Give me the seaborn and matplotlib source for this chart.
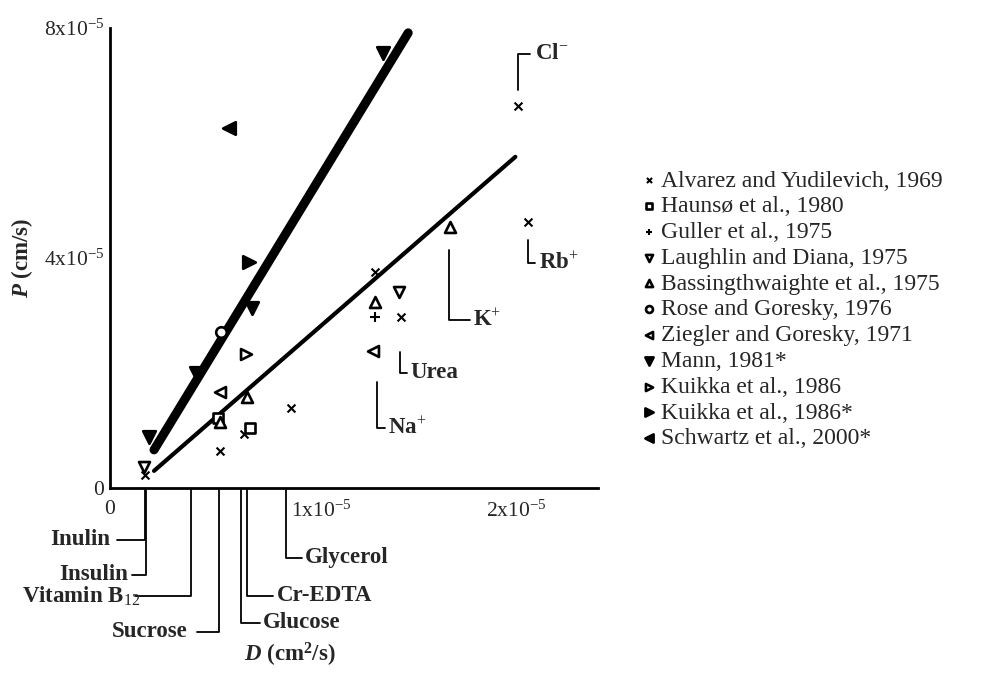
import numpy as np
import pandas as pd
import matplotlib
matplotlib.use("Agg")
import matplotlib.pyplot as plt
import matplotlib.transforms as mtransforms
import seaborn as sns

# ---------------- data (units of 1e-5) ----------------
alvarez_D = [0.18, 0.564, 0.687, 0.928, 1.36, 1.49, 2.09, 2.14]
alvarez_P = [0.23, 0.64, 0.94, 1.39, 3.76, 2.97, 6.64, 4.63]
haunso_D = [0.554, 0.718]
haunso_P = [1.22, 1.04]
guller_D = [1.36]
guller_P = [2.97]
laughlin_D = [0.175, 1.48]
laughlin_P = [0.37, 3.41]
bass_D = [0.564, 0.70, 1.36, 1.74]
bass_P = [1.15, 1.58, 3.24, 4.54]
rose_D = [0.57]
rose_P = [2.71]
ziegler_D = [0.564, 1.35]
ziegler_P = [1.67, 2.38]
mann_D = [0.20, 0.441, 0.728, 1.40]
mann_P = [0.887, 2.00, 3.13, 7.57]
kuikka_D = [0.697]
kuikka_P = [2.33]
kuikka2_D = [0.713]
kuikka2_P = [3.93]
schwartz_D = [0.61]
schwartz_P = [6.26]

thick_D = [0.226, 1.528]
thick_P = [0.661, 7.913]
thin_D = [0.226, 2.077]
thin_P = [0.296, 5.757]

study_names = ["Alvarez and Yudilevich, 1969", "Haunsø et al., 1980", "Guller et al., 1975",
               "Laughlin and Diana, 1975", "Bassingthwaighte et al., 1975", "Rose and Goresky, 1976",
               "Ziegler and Goresky, 1971", "Mann, 1981*", "Kuikka et al., 1986",
               "Kuikka et al., 1986*", "Schwartz et al., 2000*"]

y_ticks = [0, 4, 8]
y_ticklabels = ["0", "4x10$^{-5}$", "8x10$^{-5}$"]
x_ticks = [0, 1, 2]
x_ticklabels = ["0", "1x10$^{-5}$", "2x10$^{-5}$"]

bottom_labels = ["Inulin", "Insulin", "Vitamin B$_{12}$", "Sucrose", "Glucose", "Cr-EDTA", "Glycerol"]
bottom_D = [0.18, 0.185, 0.415, 0.56, 0.67, 0.70, 0.90]

ion_labels = ["Cl$^{-}$", "Rb$^{+}$", "K$^{+}$", "Urea", "Na$^{+}$"]
ion_D = [2.09, 2.14, 1.738, 1.487, 1.37]

E = 1e-5

# ---------------- style ----------------
sns.set_style("white")
plt.rcParams["font.family"] = ["Liberation Serif", "DejaVu Serif"]
plt.rcParams["mathtext.fontset"] = "custom"
plt.rcParams["mathtext.rm"] = "Liberation Serif"
plt.rcParams["mathtext.it"] = "Liberation Serif:italic"
plt.rcParams["mathtext.bf"] = "Liberation Serif:bold"
plt.rcParams["mathtext.bfit"] = "Liberation Serif:italic:bold"

fig = plt.figure(figsize=(9.9, 6.96), dpi=100)
ax = fig.add_axes([0.111, 0.299, 0.493, 0.661])

series = [
    (alvarez_D, alvarez_P, "x", "black", 32),
    (haunso_D, haunso_P, "s", "white", 48),
    (guller_D, guller_P, "+", "black", 42),
    (laughlin_D, laughlin_P, "v", "white", 62),
    (bass_D, bass_P, "^", "white", 62),
    (rose_D, rose_P, "o", "white", 58),
    (ziegler_D, ziegler_P, "<", "white", 62),
    (mann_D, mann_P, "v", "black", 82),
    (kuikka_D, kuikka_P, ">", "white", 62),
    (kuikka2_D, kuikka2_P, ">", "black", 82),
    (schwartz_D, schwartz_P, "<", "black", 82),
]

# regression lines
sns.lineplot(x=np.array(thick_D) * E, y=np.array(thick_P) * E, ax=ax, color="black",
             lw=6.5, solid_capstyle="round", zorder=2)
sns.lineplot(x=np.array(thin_D) * E, y=np.array(thin_P) * E, ax=ax, color="black",
             lw=3.0, solid_capstyle="round", zorder=2)

for (D, P, m, fc, s), name in zip(series, study_names):
    df = pd.DataFrame({"D": np.array(D) * E, "P": np.array(P) * E})
    if m in ("x", "+"):
        sns.scatterplot(data=df, x="D", y="P", marker=m, s=s, color="black",
                        linewidth=1.5, ax=ax, label=name, zorder=3, clip_on=False)
    else:
        sns.scatterplot(data=df, x="D", y="P", marker=m, s=s, facecolor=fc,
                        edgecolor="black", linewidth=1.9, ax=ax, label=name, zorder=3,
                        clip_on=False)

ax.set_xlim(0, 2.5 * E)
ax.set_ylim(0, 8 * E)
for side in ("top", "right"):
    ax.spines[side].set_visible(False)
for side in ("left", "bottom"):
    ax.spines[side].set_linewidth(2.0)
    ax.spines[side].set_color("black")

ax.set_yticks([v * E for v in y_ticks])
ax.set_yticklabels(y_ticklabels, fontsize=15.5)
ax.set_yticks([2 * E, 6 * E], minor=True)
ax.set_xticks([v * E for v in x_ticks])
ax.set_xticklabels(x_ticklabels, fontsize=15.5)
ax.set_xticks([0.5 * E, 1.5 * E, 2.5 * E], minor=True)
ax.tick_params(axis="both", which="both", direction="in", length=7, width=1.5, color="black")
ax.tick_params(axis="y", which="major", pad=4)
ax.tick_params(axis="x", which="major", pad=9)
ax.set_xlabel("")
ax.set_ylabel("")

# shift the non-zero x tick labels slightly right, as in the original
for lab in ax.get_xticklabels()[1:]:
    lab.set_transform(lab.get_transform() +
                      mtransforms.ScaledTranslation(0.16, 0, fig.dpi_scale_trans))

# axis titles
fig.text(22 / 990, 1 - 258 / 696, r"$\mathbfit{P}$ (cm/s)", rotation=90, fontsize=16.5,
         fontweight="bold", ha="center", va="center")
fig.text(290 / 990, 1 - 655 / 696, r"$\mathbfit{D}$ (cm$^\mathbf{2}$/s)", fontsize=16.5,
         fontweight="bold", ha="center", va="center")

# ---------------- leader lines below the x axis ----------------
lk = dict(color="black", lw=1.3, clip_on=False)
tk = dict(fontsize=16.5, fontweight="bold", va="center", clip_on=False)
# (drop end P, horizontal end D, text D, ha)
bottom_layout = [
    (-0.904, 0.036, 0.0, "right"),
    (-1.513, 0.113, 0.095, "right"),
    (-1.878, 0.128, 0.155, "right"),
    (-2.504, 0.446, 0.40, "right"),
    (-2.348, 0.77, 0.785, "left"),
    (-1.878, 0.836, 0.855, "left"),
    (-1.217, 0.985, 1.0, "left"),
]
for lab, d, (yend, hx, tx, ha) in zip(bottom_labels, bottom_D, bottom_layout):
    ax.plot([d * E, d * E, hx * E], [-0.03 * E, yend * E, yend * E], **lk)
    ax.text(tx * E, yend * E, lab, ha=ha, **tk)

# ---------------- ion labels inside the plot ----------------
# (start P, end P, horizontal end D, text D)
ion_layout = [
    (6.92, 7.55, 2.154, 2.18),
    (4.31, 3.91, 2.18, 2.20),
    (4.14, 2.92, 1.846, 1.86),
    (2.37, 2.00, 1.523, 1.54),
    (1.84, 1.04, 1.41, 1.425),
]
for lab, d, (y0, y1, hx, tx) in zip(ion_labels, ion_D, ion_layout):
    ax.plot([d * E, d * E, hx * E], [y0 * E, y1 * E, y1 * E], **lk)
    ax.text(tx * E, y1 * E, lab, ha="left", **tk)

# ---------------- legend ----------------
leg = ax.legend(loc="upper left", bbox_to_anchor=(640 / 990, 1 - 170 / 696),
                bbox_transform=fig.transFigure, frameon=False, fontsize=17,
                handletextpad=0.1, handlelength=0.8, borderaxespad=0, borderpad=0,
                labelspacing=0.18, markerscale=0.65)

fig.savefig("out.png", dpi=100)
